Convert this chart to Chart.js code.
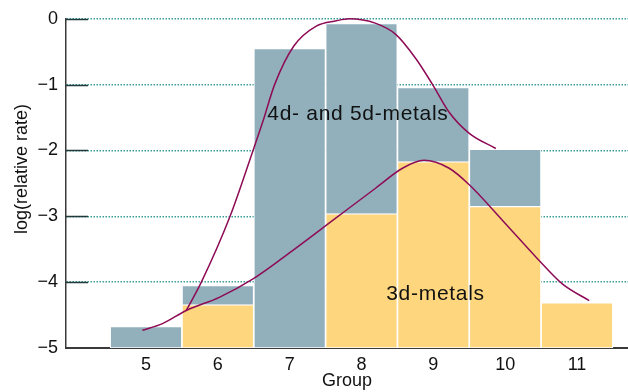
<!DOCTYPE html>
<html>
<head>
<meta charset="utf-8">
<script src="https://cdn.jsdelivr.net/npm/chart.js@4/dist/chart.umd.min.js"></script>
<style>
  html, body { margin: 0; padding: 0; background: #fff; }
  #wrap { width: 628px; height: 392px; }
</style>
</head>
<body>
<div id="wrap"><canvas id="rateChart"></canvas></div>
<script>
// Groups on the x axis
const groups = [5, 6, 7, 8, 9, 10, 11];
const yTicks = [-5, -4, -3, -2, -1, 0];
const floorValue = -5;

// Bar tops, log(relative rate), per group (null = no bar)
const heavyMetalRates = [-4.67, -4.05, -0.45, -0.07, -1.04, -1.98, null];
const firstRowRates = [null, -4.34, null, -2.96, -2.17, -2.85, -4.31];

// Smooth trend curves: x = group, y = log(rate)
const heavyCurveX = [5.56, 5.77, 6.17, 6.49, 6.63, 6.79, 7.06, 7.37, 7.65, 7.83, 8.20, 8.48, 8.76, 8.99, 9.22, 9.50, 9.87];
const heavyCurveY = [-4.43, -4.0, -3.0, -2.0, -1.55, -1.0, -0.41, -0.11, -0.03, 0.0, -0.07, -0.24, -0.61, -1.0, -1.42, -1.74, -1.97];
const firstCurveX = [4.95, 5.23, 5.56, 6.02, 6.49, 7.04, 7.65, 8.20, 8.57, 8.87, 9.22, 9.50, 9.97, 10.43, 10.80, 11.17];
const firstCurveY = [-4.73, -4.63, -4.43, -4.23, -3.95, -3.52, -3.02, -2.57, -2.27, -2.15, -2.27, -2.52, -3.07, -3.62, -4.03, -4.28];

// Text labels placed in data coordinates
const annotations = [
    { text: '4d- and 5d-metals', x: 7.95, y: -1.45 },
    { text: '3d-metals', x: 9.03, y: -4.19 }
];
const yTitle = 'log(relative rate)';

const FONT = '"Liberation Sans", Arial, sans-serif';

function barPoints(values) {
    const out = [];
    values.forEach((v, i) => {
        if (v !== null) out.push({ x: groups[i], y: [floorValue, v] });
    });
    return out;
}

function curvePoints(xs, ys) {
    return xs.map((x, i) => ({ x: x, y: ys[i] }));
}

// Short solid tick marks inside the plot, text labels, y title
const decorations = {
    id: 'decorations',
    afterDatasetsDraw(chart) {
        const { ctx, chartArea, scales } = chart;
        ctx.save();
        ctx.strokeStyle = '#233838';
        ctx.lineWidth = 1.5;
        yTicks.forEach(v => {
            if (v === floorValue) return;
            const py = Math.round(scales.y.getPixelForValue(v)) + 0.5;
            ctx.beginPath();
            ctx.moveTo(chartArea.left, py);
            ctx.lineTo(chartArea.left + 22, py);
            ctx.stroke();
        });
        ctx.fillStyle = '#111';
        ctx.font = '21px ' + FONT;
        ctx.letterSpacing = '0.7px';
        ctx.textAlign = 'center';
        ctx.textBaseline = 'middle';
        annotations.forEach(a => {
            ctx.fillText(a.text, scales.x.getPixelForValue(a.x), scales.y.getPixelForValue(a.y));
        });
        // y axis title, sits a little above the middle of the axis
        ctx.letterSpacing = '0px';
        ctx.font = '18px ' + FONT;
        ctx.translate(22, scales.y.getPixelForValue(-2.28));
        ctx.rotate(-Math.PI / 2);
        ctx.fillText(yTitle, 0, 0);
        ctx.restore();
    }
};

new Chart(document.getElementById('rateChart'), {
    type: 'bar',
    data: {
        datasets: [
            {
                type: 'line',
                label: '4d- and 5d-metals trend',
                data: curvePoints(heavyCurveX, heavyCurveY),
                borderColor: '#8e0b56',
                borderWidth: 1.5,
                pointRadius: 0,
                cubicInterpolationMode: 'monotone',
                fill: false,
                clip: 6,
                order: 0
            },
            {
                type: 'line',
                label: '3d-metals trend',
                data: curvePoints(firstCurveX, firstCurveY),
                borderColor: '#8e0b56',
                borderWidth: 1.5,
                pointRadius: 0,
                cubicInterpolationMode: 'monotone',
                fill: false,
                clip: 6,
                order: 0
            },
            {
                label: '3d-metals',
                data: barPoints(firstRowRates),
                backgroundColor: '#fed67e',
                borderColor: '#ffffff',
                borderWidth: 1.2,
                borderSkipped: false,
                grouped: false,
                barPercentage: 1,
                categoryPercentage: 1,
                order: 1
            },
            {
                label: '4d- and 5d-metals',
                data: barPoints(heavyMetalRates),
                backgroundColor: '#91b0bc',
                borderColor: '#ffffff',
                borderWidth: 1.2,
                borderSkipped: false,
                grouped: false,
                barPercentage: 1,
                categoryPercentage: 1,
                order: 2
            }
        ]
    },
    options: {
        responsive: true,
        maintainAspectRatio: false,
        animation: false,
        layout: { padding: { left: 0, right: 0, top: 16, bottom: 0 } },
        plugins: {
            legend: { display: false },
            tooltip: { enabled: false }
        },
        scales: {
            x: {
                type: 'linear',
                offset: false,
                min: 3.886,
                max: 11.71,
                afterBuildTicks: scale => {
                    scale.ticks = groups.map(g => ({ value: g }));
                },
                afterFit: scale => { scale.height = 44; },
                grid: { display: false, drawTicks: false, offset: false },
                border: { display: true, color: '#3a3a3a', width: 2 },
                ticks: {
                    padding: 6,
                    color: '#111',
                    font: { family: FONT, size: 18 },
                    maxRotation: 0,
                    autoSkip: false
                },
                title: {
                    display: true,
                    text: 'Group',
                    color: '#111',
                    font: { family: FONT, size: 18 },
                    padding: { top: 0, bottom: 0 }
                }
            },
            y: {
                min: -5,
                max: 0,
                afterBuildTicks: scale => {
                    scale.ticks = yTicks.map(v => ({ value: v }));
                },
                afterFit: scale => { scale.width = 66; },
                grid: {
                    drawTicks: false,
                    color: '#3a9d9a',
                    lineWidth: 1.5
                },
                border: { display: true, color: '#3a3a3a', width: 1.5, dash: [1.5, 1.5] },
                ticks: {
                    padding: 8,
                    color: '#111',
                    font: { family: FONT, size: 18 },
                    callback: v => (v < 0 ? '\u2212' + Math.abs(v) : String(v))
                },
                title: { display: false }
            }
        }
    },
    plugins: [decorations]
});
</script>
</body>
</html>
